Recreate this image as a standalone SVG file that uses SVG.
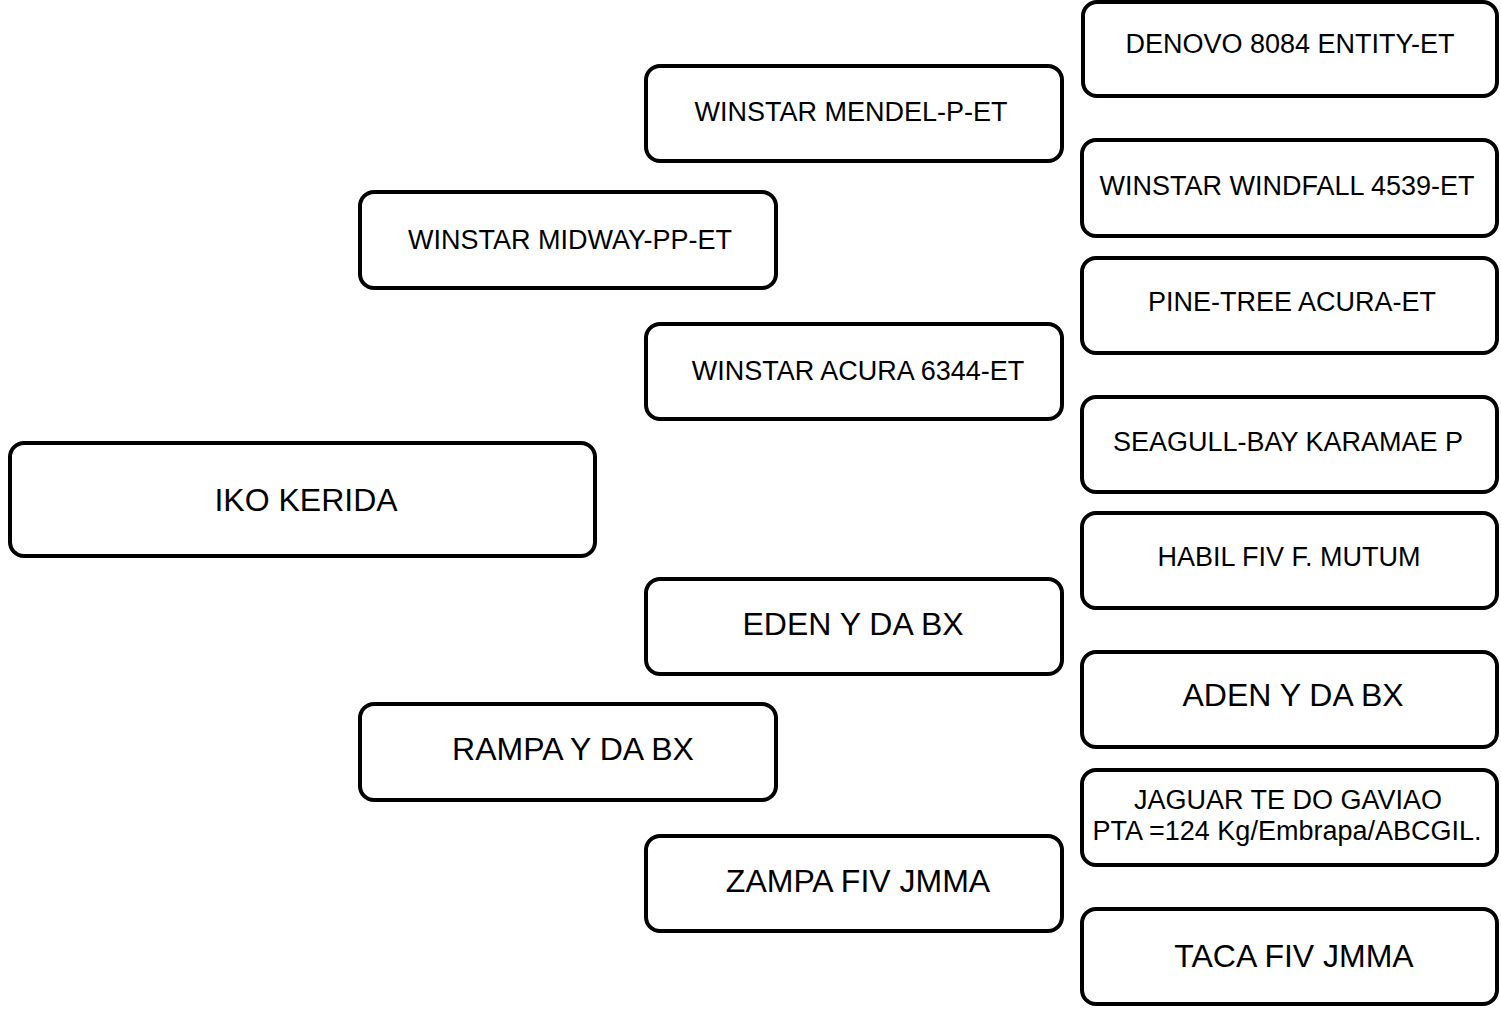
<svg xmlns="http://www.w3.org/2000/svg" width="1501" height="1011" viewBox="0 0 1501 1011">
<style>
.box{fill:#fff;stroke:#000;stroke-width:4}
.t{font-family:"Liberation Sans",Arial,sans-serif;text-anchor:middle;fill:#000}
.s{font-size:27px}
.l{font-size:32px}
</style>
<rect width="1501" height="1011" fill="#fff"/>
<g id="connectors"></g>
<g id="n-iko"><rect class="box" x="10" y="443" width="585" height="113" rx="14"/><text class="t l" x="306" y="511">IKO KERIDA</text></g>
<g id="n-midway"><rect class="box" x="360" y="192" width="416" height="96" rx="14"/><text class="t s" x="570" y="249">WINSTAR MIDWAY-PP-ET</text></g>
<g id="n-rampa"><rect class="box" x="360" y="704" width="416" height="96" rx="14"/><text class="t l" x="573" y="760">RAMPA Y DA BX</text></g>
<g id="n-mendel"><rect class="box" x="646" y="66" width="416" height="95" rx="14"/><text class="t s" x="851" y="121">WINSTAR MENDEL-P-ET</text></g>
<g id="n-acura6344"><rect class="box" x="646" y="324" width="416" height="95" rx="14"/><text class="t s" x="858" y="380">WINSTAR ACURA 6344-ET</text></g>
<g id="n-eden"><rect class="box" x="646" y="579" width="416" height="95" rx="14"/><text class="t l" x="853" y="635">EDEN Y DA BX</text></g>
<g id="n-zampa"><rect class="box" x="646" y="836" width="416" height="95" rx="14"/><text class="t l" x="858" y="892">ZAMPA FIV JMMA</text></g>
<g id="n-denovo"><rect class="box" x="1083" y="2" width="414" height="94" rx="14"/><text class="t s" x="1290" y="53">DENOVO 8084 ENTITY-ET</text></g>
<g id="n-windfall"><rect class="box" x="1082" y="140" width="415" height="96" rx="14"/><text class="t s" x="1287" y="195">WINSTAR WINDFALL 4539-ET</text></g>
<g id="n-pine"><rect class="box" x="1082" y="258" width="415" height="95" rx="14"/><text class="t s" x="1292" y="311">PINE-TREE ACURA-ET</text></g>
<g id="n-seagull"><rect class="box" x="1082" y="397" width="415" height="95" rx="14"/><text class="t s" x="1288" y="451">SEAGULL-BAY KARAMAE P</text></g>
<g id="n-habil"><rect class="box" x="1082" y="513" width="415" height="95" rx="14"/><text class="t s" x="1289" y="566">HABIL FIV F. MUTUM</text></g>
<g id="n-aden"><rect class="box" x="1082" y="652" width="415" height="95" rx="14"/><text class="t l" x="1293" y="706">ADEN Y DA BX</text></g>
<g id="n-jaguar"><rect class="box" x="1082" y="770" width="415" height="95" rx="14"/><text class="t s" x="1288" y="809">JAGUAR TE DO GAVIAO</text><text class="t s" x="1287" y="840">PTA =124 Kg/Embrapa/ABCGIL.</text></g>
<g id="n-taca"><rect class="box" x="1082" y="909" width="415" height="95" rx="14"/><text class="t l" x="1294" y="967">TACA FIV JMMA</text></g>
</svg>
